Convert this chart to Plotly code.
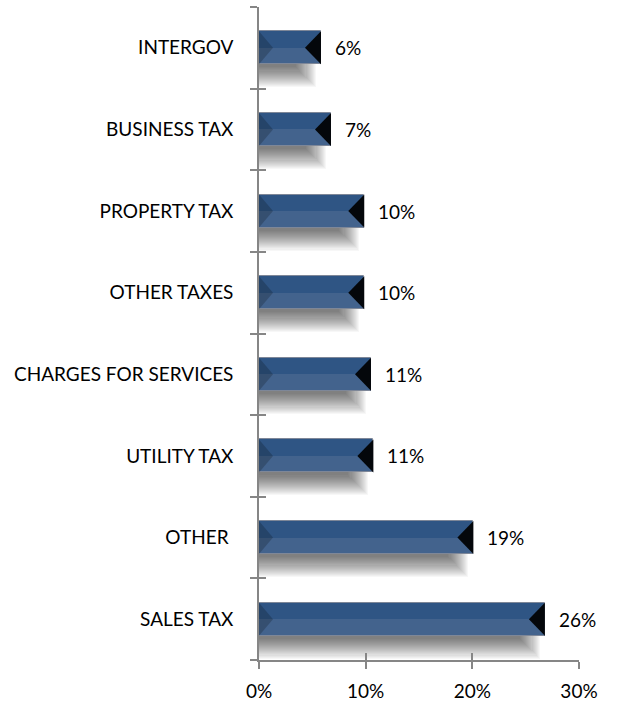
import plotly.graph_objects as go

# ---- data (top to bottom as shown) ----
categories = ["INTERGOV", "BUSINESS TAX", "PROPERTY TAX", "OTHER TAXES",
              "CHARGES FOR SERVICES", "UTILITY TAX", "OTHER\u00a0", "SALES TAX"]
values = [5.81, 6.75, 9.87, 9.87, 10.5, 10.72, 20.1, 26.8]      # bar length, %
value_labels = ["6%", "7%", "10%", "10%", "11%", "11%", "19%", "26%"]
x_ticks = [0, 10, 20, 30]
x_tick_labels = ["0%", "10%", "20%", "30%"]

FONT = "Lato"
FS = 19
AX = "#868686"

n = len(categories)
pos = [n - 1 - i for i in range(n)]          # INTERGOV on top
bounds = [i - 0.5 for i in range(n + 1)]

# pixel -> data unit helpers (plot area 320px wide for 30%, 653px tall for 8 cats)
PX_X = 30 / 320.0
PX_Y = 8 / 652.7

bar_h = 33 * PX_Y
fig = go.Figure()

# ---- soft shadow (stacked translucent bars) ----
layers = 20
blur = 10
for k in range(layers):
    e = blur * (1 - 2 * k / (layers - 1))     # +blur (outer) ... -blur (inner)
    h = bar_h + 2 * e * PX_Y
    fig.add_trace(go.Bar(
        orientation="h",
        y=pos,
        x=[max(v - 15 * PX_X + e * PX_X, 0) for v in values],
        base=0,
        width=h,
        offset=-13 * PX_Y - h / 2,
        marker=dict(color="rgba(0,0,0,0.03)", line=dict(width=0)),
        hoverinfo="skip", showlegend=False,
    ))

# ---- bar bodies: darker upper half, lighter lower half ----
fig.add_trace(go.Bar(
    orientation="h", y=pos, x=values, base=0, width=bar_h / 2, offset=0,
    marker=dict(color="#2F5584", line=dict(width=0)),
    hoverinfo="skip", showlegend=False))
fig.add_trace(go.Bar(
    orientation="h", y=pos, x=values, base=0, width=bar_h / 2, offset=-bar_h / 2,
    marker=dict(color="#43638D", line=dict(width=0)),
    hoverinfo="skip", showlegend=False))

# ---- bevel triangles ----
dl = 14 * PX_X
dr = 16 * PX_X
for v, p in zip(values, pos):
    fig.add_trace(go.Scatter(
        x=[0, dl, 0, 0], y=[p + bar_h / 2, p, p - bar_h / 2, p + bar_h / 2],
        mode="lines", fill="toself", fillcolor="rgba(0,0,0,0.2)",
        line=dict(width=0), hoverinfo="skip", showlegend=False))
    fig.add_trace(go.Scatter(
        x=[v, v - dr, v, v], y=[p + bar_h / 2, p, p - bar_h / 2, p + bar_h / 2],
        mode="lines", fill="toself", fillcolor="#04070B",
        line=dict(width=0), hoverinfo="skip", showlegend=False))

# ---- thin outline ----
fig.add_trace(go.Bar(
    orientation="h", y=pos, x=values, base=0, width=bar_h,
    marker=dict(color="rgba(0,0,0,0)", line=dict(color="#7E8798", width=1)),
    hoverinfo="skip", showlegend=False))

# invisible trace for the overlay axes (inner half of crossing ticks)
fig.add_trace(go.Scatter(x=[0], y=[0], xaxis="x2", yaxis="y2", mode="markers",
                         marker=dict(opacity=0), hoverinfo="skip", showlegend=False))

for v, p, t in zip(values, pos, value_labels):
    fig.add_annotation(x=v, y=p, text=t, xanchor="left", xshift=12,
                       showarrow=False, font=dict(family=FONT, size=FS, color="#000"))

fig.update_layout(
    width=618, height=703,
    margin=dict(l=259, r=39, t=7, b=43, autoexpand=False),
    paper_bgcolor="white", plot_bgcolor="white",
    barmode="overlay", bargap=0,
    font=dict(family=FONT, size=FS, color="#000"),
    xaxis=dict(range=[0, 30], tickmode="array", tickvals=x_ticks, ticktext=x_tick_labels,
               showgrid=False, zeroline=False, showline=True, linecolor=AX, linewidth=1.5,
               ticks="outside", ticklen=7, tickcolor=AX, tickwidth=1.5,
               ticklabelstandoff=6, automargin=False, fixedrange=True),
    yaxis=dict(range=[-0.5, n - 0.5], tickmode="array", tickvals=pos, ticktext=categories,
               showgrid=False, zeroline=False, showline=True, linecolor=AX, linewidth=1.5,
               ticks="", ticklabelstandoff=20, automargin=False,
               minor=dict(tickmode="array", tickvals=bounds, ticks="outside", ticklen=7,
                          tickcolor=AX, tickwidth=1.5, showgrid=False),
               fixedrange=True),
    xaxis2=dict(range=[0, 30], overlaying="x", anchor="y2", side="bottom",
                tickmode="array", tickvals=x_ticks, ticks="inside", ticklen=7,
                tickcolor=AX, tickwidth=1.5, showticklabels=False, showgrid=False,
                zeroline=False, showline=False, automargin=False),
    yaxis2=dict(range=[-0.5, n - 0.5], overlaying="y", anchor="x2", side="left",
                tickmode="array", tickvals=bounds, ticks="inside", ticklen=7,
                tickcolor=AX, tickwidth=1.5, showticklabels=False, showgrid=False,
                zeroline=False, showline=False, automargin=False),
)

fig.write_html("out.html", config={"displayModeBar": False},
               post_script="document.body.style.margin='0';document.body.style.overflow='hidden';")
